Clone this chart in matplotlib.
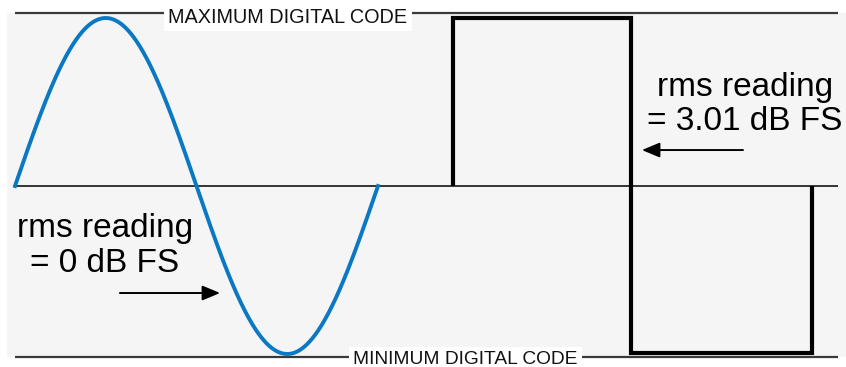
import numpy as np
import matplotlib
matplotlib.use("Agg")
import matplotlib.pyplot as plt
from matplotlib.patches import Rectangle

plt.rcParams['font.family'] = ['Liberation Sans', 'DejaVu Sans']

# --- data ---
sine_periods = 1.0                      # one full period of the sine
sine_amplitude = 1.0
square_t = [1.207, 1.207, 1.697, 1.697, 2.196, 2.196]
square_v = [0.0, 1.0, 1.0, -0.995, -0.995, 0.0]
max_code_level = 1.027
min_code_level = -1.018
labels_left = ["rms reading", "= 0 dB FS"]
labels_right = ["rms reading", "= 3.01 dB FS"]
code_labels = ["MAXIMUM DIGITAL CODE", "MINIMUM DIGITAL CODE"]

t = np.linspace(0, sine_periods, 600)
sine_v = sine_amplitude * np.sin(2 * np.pi * t)

# --- figure ---
fig = plt.figure(figsize=(8.46, 3.67), dpi=100)
ax = fig.add_axes([0, 0, 1, 1])
ax.set_xlim(-15 / 363, (846 - 15) / 363)
ax.set_ylim(-181 / 168, 186 / 168)
ax.axis('off')

# gray panel
ax.add_patch(Rectangle((-8 / 363, -171 / 168), (846 - 7) / 363, (357 - 13) / 168,
                       facecolor='#f5f5f5', edgecolor='none', zorder=0))

x_end = (838 - 15) / 363
ax.plot([0, x_end], [max_code_level, max_code_level], color='#3a3a3a', lw=1.6, zorder=1,
        solid_capstyle='butt')
ax.plot([0, x_end], [min_code_level, min_code_level], color='#3a3a3a', lw=1.6, zorder=1,
        solid_capstyle='butt')
ax.plot([0, x_end], [0, 0], color='black', lw=1.1, zorder=1, solid_capstyle='butt')

ax.plot(t, sine_v, color='#0a78c2', lw=2.8, zorder=3)
ax.plot(square_t, square_v, color='black', lw=3.0, zorder=3, solid_joinstyle='miter',
        solid_capstyle='butt')

# code labels
box = dict(boxstyle='square,pad=0.22', facecolor='white', edgecolor='none')
ax.text(0.752, 0.972, code_labels[0], ha='center', va='baseline', fontsize=14.3,
        color='#111111', bbox=box, zorder=4)
ax.text(1.240, -1.060, code_labels[1], ha='center', va='baseline', fontsize=13.8,
        color='#111111', bbox=box, zorder=4)

# rms labels
ax.text(0.248, -0.304, labels_left[0], ha='center', va='baseline', fontsize=24, zorder=4)
ax.text(0.248, -0.512, labels_left[1], ha='center', va='baseline', fontsize=24, zorder=4)
ax.text(2.011, 0.536, labels_right[0], ha='center', va='baseline', fontsize=24, zorder=4)
ax.text(2.011, 0.333, labels_right[1], ha='center', va='baseline', fontsize=24, zorder=4)

arrow = dict(arrowstyle='-|>,head_length=0.6,head_width=0.25', mutation_scale=18,
             lw=1.4, color='black', shrinkA=0, shrinkB=0)
ax.annotate('', xy=(0.565, -0.637), xytext=(0.289, -0.637), arrowprops=arrow, zorder=4)
ax.annotate('', xy=(1.727, 0.214), xytext=(2.0055, 0.214), arrowprops=arrow, zorder=4)

fig.savefig('out.png', dpi=100, facecolor='white')
